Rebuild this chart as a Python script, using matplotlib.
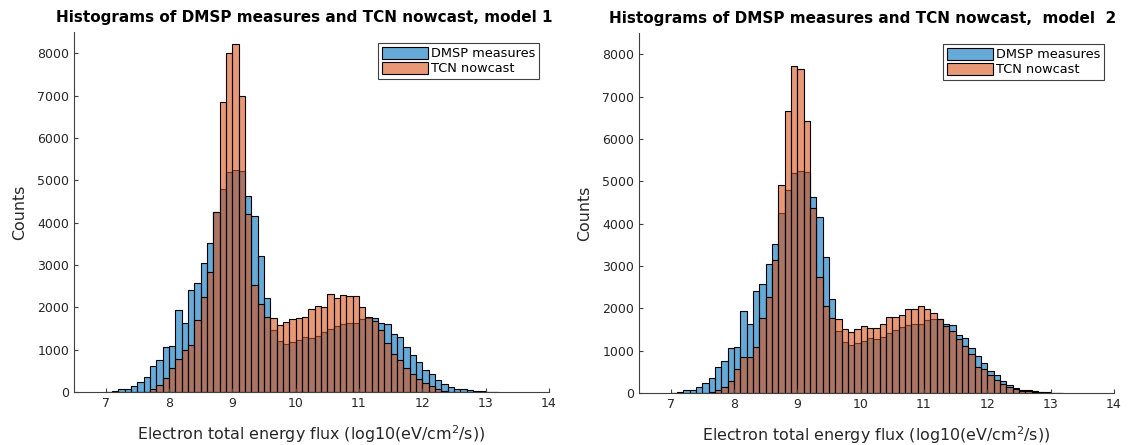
import numpy as np
import matplotlib
matplotlib.use("Agg")
import matplotlib.pyplot as plt

# histogram bins: 0.1 wide, left edges from 7.0 to 13.1
bin_edges = np.round(np.arange(7.0, 13.25, 0.1), 1)

# DMSP measured counts (same set for both models)
dmsp_counts = [5, 22, 65, 70, 140, 225, 345, 625, 750, 1055,
               1080, 1930, 1620, 2420, 2575, 3050, 3515, 4250, 4800, 5185,
               5245, 5210, 4635, 4145, 3205, 2210, 1465, 1210, 1135, 1185,
               1230, 1295, 1265, 1330, 1410, 1490, 1560, 1605, 1635, 1640,
               1715, 1750, 1740, 1635, 1605, 1380, 1310, 1060, 880, 700,
               525, 425, 295, 195, 120, 72, 62, 45, 25, 18,
               10, 3]

# TCN nowcast counts, model 1
tcn_model1 = [0, 0, 0, 0, 0, 0, 10, 70, 170, 325,
              575, 780, 1000, 1115, 1690, 2250, 2825, 4240, 6850, 8000,
              8210, 6990, 4200, 2525, 2070, 1780, 1740, 1585, 1660, 1715,
              1740, 1780, 1960, 2040, 2000, 2310, 2225, 2290, 2275, 2265,
              2015, 1780, 1680, 1465, 1150, 900, 760, 565, 425, 315,
              210, 140, 65, 15, 0, 0, 0, 0, 0, 0,
              0, 0]

# TCN nowcast counts, model 2
tcn_model2 = [0, 0, 0, 0, 0, 5, 25, 70, 135, 290,
              565, 840, 840, 1075, 1765, 2275, 3135, 4900, 6650, 7720,
              7660, 6425, 4370, 2730, 2060, 1760, 1755, 1520, 1450, 1505,
              1580, 1530, 1530, 1630, 1805, 1805, 1830, 1975, 1990, 2060,
              1990, 1880, 1740, 1585, 1475, 1270, 1115, 925, 615, 560,
              415, 315, 220, 140, 90, 50, 40, 30, 20, 10,
              0, 0]

titles = ["Histograms of DMSP measures and TCN nowcast, model 1",
          "Histograms of DMSP measures and TCN nowcast,  model  2"]
x_ticks = [7, 8, 9, 10, 11, 12, 13, 14]
y_ticks = [0, 1000, 2000, 3000, 4000, 5000, 6000, 7000, 8000]

BLUE = (0.0, 0.447, 0.741, 0.6)
ORANGE = (0.85, 0.325, 0.098, 0.6)
AXCOL = "#404040"


def draw_panel(ax, tcn, title, title_x):
    left = bin_edges[:-1]
    ax.bar(left, dmsp_counts, width=0.1, align="edge", color=BLUE,
           edgecolor="k", linewidth=0.8, label="DMSP measures")
    ax.bar(left, tcn, width=0.1, align="edge", color=ORANGE,
           edgecolor="k", linewidth=0.8, label="TCN nowcast")

    ax.set_xlim(6.5, 14)
    ax.set_ylim(0, 8500)
    ax.set_xticks(x_ticks)
    ax.set_yticks(y_ticks)
    ax.spines["top"].set_visible(False)
    ax.spines["right"].set_visible(False)
    for s in ("left", "bottom"):
        ax.spines[s].set_color(AXCOL)
        ax.spines[s].set_linewidth(0.8)
    ax.tick_params(direction="in", length=3, width=0.8, colors=AXCOL,
                   labelsize=9, labelcolor="#262626")

    ax.set_title(title, fontsize=11, fontweight="bold", pad=7, x=title_x)
    ax.set_xlabel(r"Electron total energy flux (log10(eV/cm$^2$/s))",
                  fontsize=11.4, color="#262626", labelpad=10)
    ax.set_ylabel("Counts", fontsize=11.4, color="#262626", labelpad=7)
    leg = ax.legend(loc="upper right", bbox_to_anchor=(0.979, 0.97),
                    fontsize=9.3, fancybox=False, framealpha=1,
                    handlelength=3.5, handleheight=1.05, handletextpad=0.25,
                    borderpad=0.3, labelspacing=0.12, borderaxespad=0)
    leg.get_frame().set_edgecolor(AXCOL)
    leg.get_frame().set_linewidth(0.8)


fig = plt.figure(figsize=(11.37, 4.45), dpi=100)
ax1 = fig.add_axes([74 / 1137, 53 / 445, 475 / 1137, 360 / 445])
ax2 = fig.add_axes([639 / 1137, 52 / 445, 475 / 1137, 360 / 445])

draw_panel(ax1, tcn_model1, titles[0], 0.485)
draw_panel(ax2, tcn_model2, titles[1], 0.47)

fig.savefig("out.png", dpi=100)
